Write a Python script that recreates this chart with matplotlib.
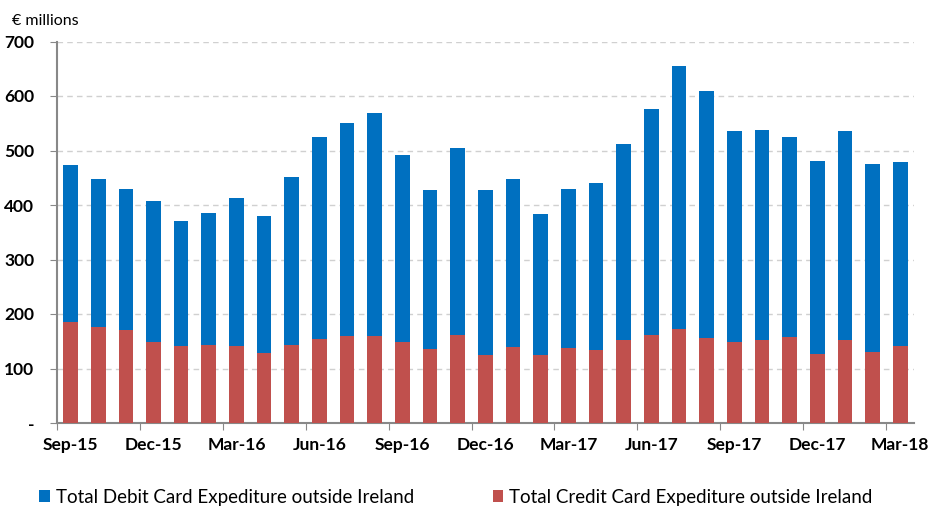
import numpy as np
import matplotlib
matplotlib.use('Agg')
import matplotlib.pyplot as plt

plt.rcParams['font.family'] = ['Lato', 'DejaVu Sans']

## monthly values, Sep-15 .. Mar-18 (EUR millions)
months = ['Sep-15', 'Oct-15', 'Nov-15', 'Dec-15', 'Jan-16', 'Feb-16', 'Mar-16', 'Apr-16',
          'May-16', 'Jun-16', 'Jul-16', 'Aug-16', 'Sep-16', 'Oct-16', 'Nov-16', 'Dec-16',
          'Jan-17', 'Feb-17', 'Mar-17', 'Apr-17', 'May-17', 'Jun-17', 'Jul-17', 'Aug-17',
          'Sep-17', 'Oct-17', 'Nov-17', 'Dec-17', 'Jan-18', 'Feb-18', 'Mar-18']
total = [474, 448, 430, 407, 370, 386, 413, 379, 452, 524, 550, 568, 491, 427, 505, 427,
         448, 383, 430, 441, 512, 577, 655, 610, 535, 538, 525, 481, 535, 475, 479]
credit = [186, 177, 170, 148, 141, 144, 142, 128, 144, 155, 159, 159, 149, 135, 161, 125,
          140, 125, 137, 134, 152, 162, 173, 156, 149, 152, 157, 127, 152, 131, 141]
debit = [t - c for t, c in zip(total, credit)]

blue = '#0070C0'
red = '#C0504D'

fig = plt.figure(figsize=(9.34, 5.07), dpi=100)
ax = fig.add_axes([56.7 / 934, 1 - 423 / 507, (914 - 56.7) / 934, (423 - 41.5) / 507])

x = np.arange(len(months))
ax.bar(x, credit, width=0.53, color=red, zorder=3,
       label='Total Credit Card Expediture outside Ireland')
ax.bar(x, debit, width=0.53, bottom=credit, color=blue, zorder=3,
       label='Total Debit Card Expediture outside Ireland')

ax.set_xlim(-0.5, len(months) - 0.5)
ax.set_ylim(0, 700)
ax.set_yticks(range(0, 701, 100))
ax.set_yticklabels(['-'] + [str(v) for v in range(100, 701, 100)], fontsize=12.5, fontweight='bold')
ax.yaxis.grid(True, color='#d0d0d0', linestyle=(0, (4, 3)), linewidth=1, zorder=0)

ax.set_xticks(np.arange(-0.5, len(months), 3))
ax.set_xticklabels([])
ax.set_xticks(x[::3], minor=True)
ax.set_xticklabels(months[::3], minor=True, fontsize=12.5, fontweight='bold')
ax.tick_params(axis='x', which='minor', length=0, pad=10)
ax.tick_params(axis='x', which='major', length=5, color='#888888')
ax.tick_params(axis='y', length=5, color='#888888', pad=11)

for s in ['top', 'right']:
    ax.spines[s].set_visible(False)
for s in ['left', 'bottom']:
    ax.spines[s].set_color('#888888')
    ax.spines[s].set_linewidth(1.5)

fig.text(12 / 934, 1 - 21 / 507, '€ millions', fontsize=11.5, va='center', ha='left')

h, l = ax.get_legend_handles_labels()
fig.legend(h[::-1], l[::-1], loc='center left', bbox_to_anchor=(39 / 934, 1 - 497 / 507),
           ncol=2, frameon=False, fontsize=13.5, handlelength=0.57, handleheight=0.55,
           handletextpad=0.32, columnspacing=4.2, borderpad=0, borderaxespad=0)

plt.savefig('out.png', dpi=100)
